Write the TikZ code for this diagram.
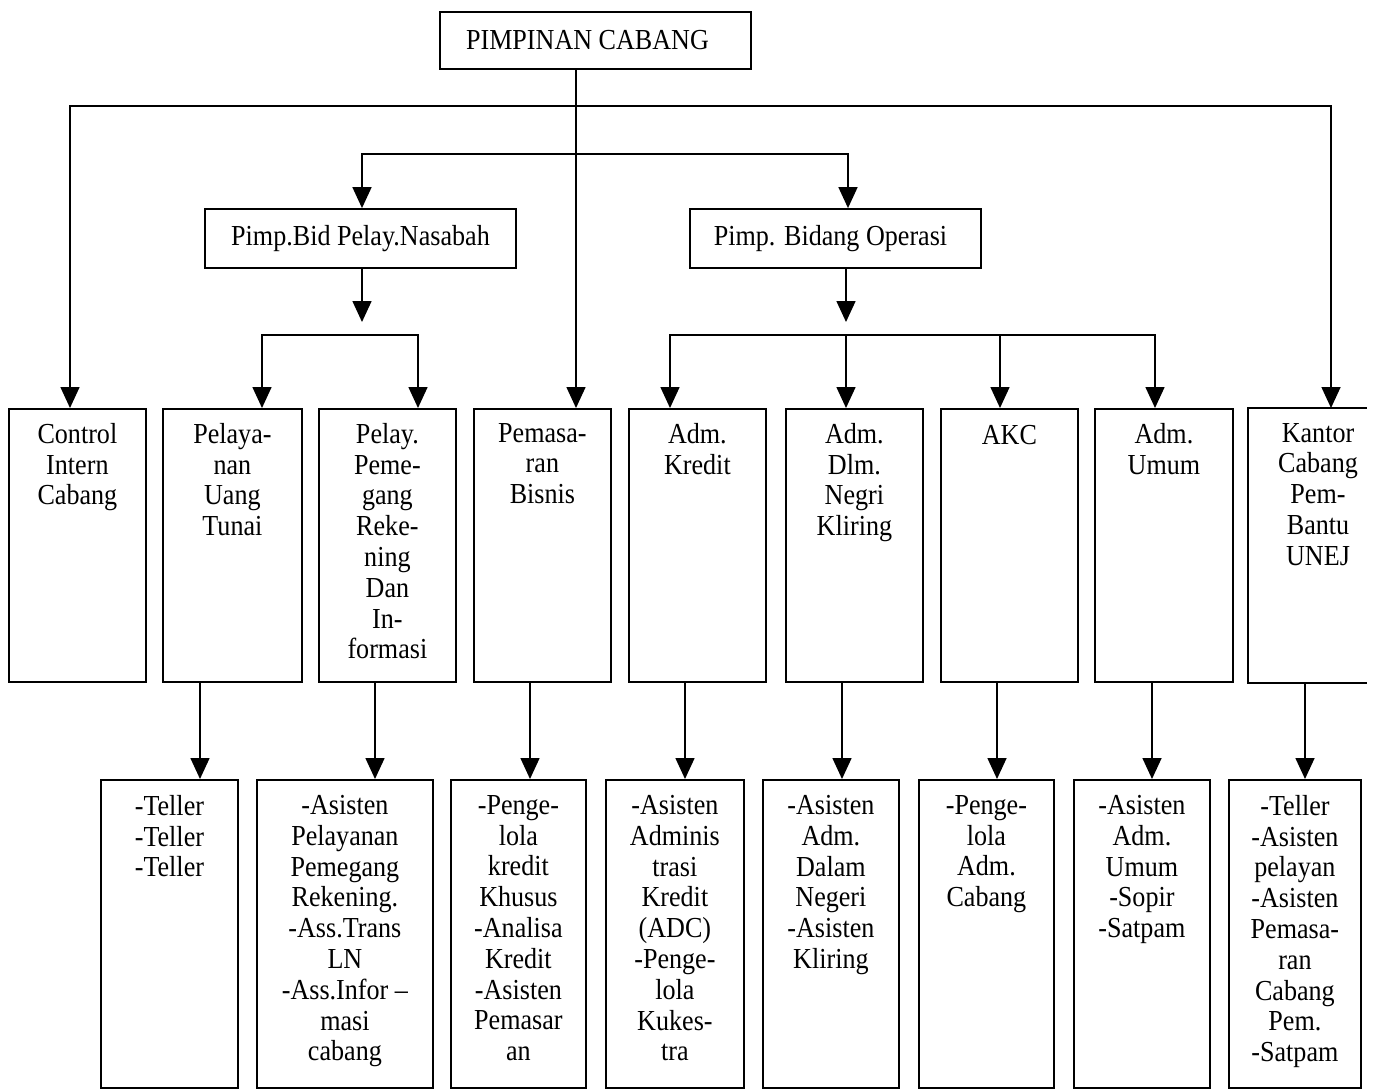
\documentclass[tikz,border=0pt]{standalone}
\usepackage{fontspec}
\setmainfont{Liberation Serif}[FakeStretch=0.9]
\usetikzlibrary{arrows.meta}
\newcommand\bxfont{\fontsize{29}{30.8}\selectfont}
\begin{document}
\begin{tikzpicture}[x=1pt,y=-1pt,
  frame/.style={draw=black, line width=1.8pt, inner sep=0pt, anchor=north west},
  lvltop/.style={draw=black, line width=1.8pt, font=\bxfont, inner sep=0pt},
  txt/.style={font=\bxfont, align=center, inner sep=0pt, anchor=north, execute at begin node=\strut},
  conn/.style={draw=black, line width=1.6pt},
  arr/.style={conn, -{Triangle[width=19pt,length=21pt]}}]
\useasboundingbox (0,0) rectangle (1375,1090);

% top levels
\node[lvltop, minimum width=311pt, minimum height=57pt] (pc) at (595.5,40.5) {PIMPINAN CABANG\hspace*{16pt}};
\node[lvltop, minimum width=311pt, minimum height=59pt] (pb) at (360.5,238.5) {Pimp.Bid Pelay.Nasabah};
\node[lvltop, minimum width=291pt, minimum height=59pt] (po) at (835.5,238.5) {Pimp. Bidang Operasi\hspace*{10pt}};

% level 3 boxes
\node[frame, minimum width=137pt, minimum height=273pt] (c1) at (8,408) {};
\node[frame, minimum width=139pt, minimum height=273pt] (c2) at (162,408) {};
\node[frame, minimum width=137pt, minimum height=273pt] (c3) at (318,408) {};
\node[frame, minimum width=137pt, minimum height=273pt] (c4) at (473,408) {};
\node[frame, minimum width=137pt, minimum height=273pt] (c5) at (628,408) {};
\node[frame, minimum width=137pt, minimum height=273pt] (c6) at (785,408) {};
\node[frame, minimum width=137pt, minimum height=273pt] (c7) at (940,408) {};
\node[frame, minimum width=138pt, minimum height=273pt] (c8) at (1094,408) {};
\node[frame, draw=none, minimum width=117pt, minimum height=273pt] (c9) at (1248,408) {};
\draw[line width=1.8pt] (c9.north east) -- (c9.north west) -- (c9.south west) -- (c9.south east);

\node[txt] (tc1) at ([yshift=-15pt]c1.north) {Control\\Intern\\Cabang};
\node[txt] (tc2) at ([yshift=-15pt]c2.north) {Pelaya-\\nan\\Uang\\Tunai};
\node[txt] (tc3) at ([yshift=-15pt]c3.north) {Pelay.\\Peme-\\gang\\Reke-\\ning\\Dan\\In-\\formasi};
\node[txt] (tc4) at ([yshift=-15pt]c4.north) {Pemasa-\\ran\\Bisnis};
\node[txt] (tc5) at ([yshift=-15pt]c5.north) {Adm.\\Kredit};
\node[txt] (tc6) at ([yshift=-15pt]c6.north) {Adm.\\Dlm.\\Negri\\Kliring};
\node[txt] (tc7) at ([yshift=-15pt]c7.north) {AKC};
\node[txt] (tc8) at ([yshift=-15pt]c8.north) {Adm.\\Umum};
\node[txt] (tc9) at ([yshift=-15pt]1318,408) {Kantor\\Cabang\\Pem-\\Bantu\\UNEJ};

% level 4 boxes
\node[frame, minimum width=137pt, minimum height=308pt] (d1) at (100,779) {};
\node[frame, minimum width=176pt, minimum height=308pt] (d2) at (256,779) {};
\node[frame, minimum width=135pt, minimum height=308pt] (d3) at (450,779) {};
\node[frame, minimum width=138pt, minimum height=308pt] (d4) at (605,779) {};
\node[frame, minimum width=136pt, minimum height=308pt] (d5) at (762,779) {};
\node[frame, minimum width=135pt, minimum height=308pt] (d6) at (918,779) {};
\node[frame, minimum width=136pt, minimum height=308pt] (d7) at (1073,779) {};
\node[frame, minimum width=132pt, minimum height=308pt] (d8) at (1228,779) {};

\node[txt] (td1) at ([yshift=-16pt]d1.north) {-Teller\\-Teller\\-Teller};
\node[txt] (td2) at ([yshift=-16pt]d2.north) {-Asisten\\Pelayanan\\Pemegang\\Rekening.\\-Ass.Trans\\LN\\-Ass.Infor --\\masi\\cabang};
\node[txt] (td3) at ([yshift=-16pt]d3.north) {-Penge-\\lola\\kredit\\Khusus\\-Analisa\\Kredit\\-Asisten\\Pemasar\\an};
\node[txt] (td4) at ([yshift=-16pt]d4.north) {-Asisten\\Adminis\\trasi\\Kredit\\(ADC)\\-Penge-\\lola\\Kukes-\\tra};
\node[txt] (td5) at ([yshift=-16pt]d5.north) {-Asisten\\Adm.\\Dalam\\Negeri\\-Asisten\\Kliring};
\node[txt] (td6) at ([yshift=-16pt]d6.north) {-Penge-\\lola\\Adm.\\Cabang};
\node[txt] (td7) at ([yshift=-16pt]d7.north) {-Asisten\\Adm.\\Umum\\-Sopir\\-Satpam};
\node[txt] (td8) at ([yshift=-16pt]d8.north) {-Teller\\-Asisten\\pelayan\\-Asisten\\Pemasa-\\ran\\Cabang\\Pem.\\-Satpam};

% connectors from the top
\coordinate (j1) at (576,106);
\coordinate (j2) at (576,154);
\draw[arr] (576,0 |- pc.south) -- (576,0 |- c4.north);
\draw[arr] (j1) -| (70,0 |- c1.north);
\draw[arr] (j1) -| (1331,0 |- c9.north);
\draw[arr] (j2) -| (362,0 |- pb.north);
\draw[arr] (j2) -| (848,0 |- po.north);

% below Pimp.Bid Pelay.Nasabah
\coordinate (pbend) at (362,322);
\draw[arr] (362,0 |- pb.south) -- (pbend);
\coordinate (b1) at (340,335);
\draw[arr] (b1) -| (262,0 |- c2.north);
\draw[arr] (b1) -| (418,0 |- c3.north);

% below Pimp. Bidang Operasi
\coordinate (poend) at (846,322);
\draw[arr] (846,0 |- po.south) -- (poend);
\coordinate (b2) at (846,335);
\draw[arr] (b2) -| (670,0 |- c5.north);
\draw[arr] (b2) -- (846,0 |- c6.north);
\draw[arr] (b2) -| (1000,0 |- c7.north);
\draw[arr] (b2) -| (1155,0 |- c8.north);

% level 3 to level 4
\draw[arr] (200,0 |- c2.south) -- (200,0 |- d1.north);
\draw[arr] (375,0 |- c3.south) -- (375,0 |- d2.north);
\draw[arr] (530,0 |- c4.south) -- (530,0 |- d3.north);
\draw[arr] (685,0 |- c5.south) -- (685,0 |- d4.north);
\draw[arr] (842,0 |- c6.south) -- (842,0 |- d5.north);
\draw[arr] (997,0 |- c7.south) -- (997,0 |- d6.north);
\draw[arr] (1152,0 |- c8.south) -- (1152,0 |- d7.north);
\draw[arr] (1305,0 |- c9.south) -- (1305,0 |- d8.north);
\end{tikzpicture}
\end{document}
